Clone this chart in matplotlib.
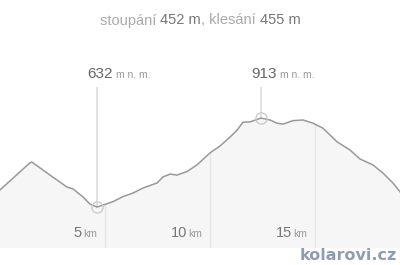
import matplotlib
matplotlib.use("Agg")
import matplotlib.pyplot as plt
import numpy as np

# distance (km) and elevation (m n. m.)
dist_km = [0.0, 1.43, 1.52, 2.38, 3.19, 3.48, 3.95, 4.29, 4.62, 4.90, 5.38, 5.86, 6.33, 6.81,
           7.48, 7.76, 8.10, 8.43, 8.90, 9.38, 10.0, 10.48, 10.95, 11.29, 11.57, 11.90,
           12.43, 12.86, 13.19, 13.48, 13.95, 14.43, 14.90, 15.38, 16.05, 16.67, 17.14,
           17.76, 18.24, 18.71, 19.05]
elev_m = [686, 772, 774, 733, 695, 689, 664, 641, 632, 638, 649, 665, 676, 692,
          708, 727, 736, 733, 744, 765, 803, 825, 853, 875, 900, 901,
          913, 907, 897, 894, 905, 907, 897, 881, 838, 812, 784,
          765, 739, 708, 680]
tick_km = [5, 10, 15]
title_parts = [("stoupání ", "#aaaaaa"), ("452 m", "#777777"), (", klesání ", "#aaaaaa"), ("455 m", "#777777")]

plt.rcParams["font.family"] = ["Liberation Sans", "DejaVu Sans"]

W, H = 400, 265
PX_PER_KM = 21.0
fig = plt.figure(figsize=(W / 100, H / 100), dpi=100)
ax_top_px, ax_bot_px = 60, 248
ax = fig.add_axes([0, 1 - ax_bot_px / H, 1, (ax_bot_px - ax_top_px) / H])
ax.set_xlim(0, W / PX_PER_KM)
ax.set_ylim(502.5, 502.5 + (ax_bot_px - ax_top_px) * 3.16)
ax.axis("off")

x = np.array(dist_km)
y = np.array(elev_m)
ymin = ax.get_ylim()[0]
ax.fill_between(x, y, ymin, color="#f6f6f6", zorder=1, lw=0)
renderer = fig.canvas.get_renderer()
for t in tick_km:
    ax.vlines(t, ymin, np.interp(t, x, y), color="#e6e6e6", lw=1, zorder=2)
    gx = t * PX_PER_KM
    fig.text((gx - 23) / W, 1 - 233 / H, str(t), ha="right", va="center", fontsize=10.5, color="#777777")
    fig.text((gx - 21.5) / W, 1 - 234 / H, "km", ha="left", va="center", fontsize=7.5, color="#999999")
ax.plot(x, y, color="#999999", lw=1.1, zorder=4)

# min / max markers
for idx in [int(np.argmin(y)), int(np.argmax(y))]:
    px, py = x[idx], y[idx]
    ax.plot([px, px], [py, ymin + (248 - 88) * 3.16], color="#dddddd", lw=1.2, zorder=3, clip_on=False)
    ax.plot(px, py, marker="o", ms=8, mfc="none", mec="#cccccc", mew=1, zorder=5)
    num = fig.text((px * PX_PER_KM - 10) / W, 1 - 74 / H, f"{int(py)}", ha="left", va="center",
                   fontsize=11, color="#666666")
    fig.text((px * PX_PER_KM + 19) / W, 1 - 75 / H, "m n. m.", ha="left", va="center",
             fontsize=7.5, color="#999999")

# title with mixed colours
texts = []
for s, c in title_parts:
    texts.append(fig.text(0, 1 - 20.5 / H, s, ha="left", va="center", fontsize=10.5, color=c))
widths = [t.get_window_extent(renderer).width for t in texts]
total = sum(widths)
xpos = (W - total) / 2
for t, w in zip(texts, widths):
    t.set_x(xpos / W)
    xpos += w

fig.text(397 / W, 1 - 255.5 / H, "kolarovi.cz", ha="right", va="center", fontsize=11.5,
         fontweight="bold", color="#8d9db3", family="DejaVu Sans")

fig.savefig("out.png", dpi=100, facecolor="white")
